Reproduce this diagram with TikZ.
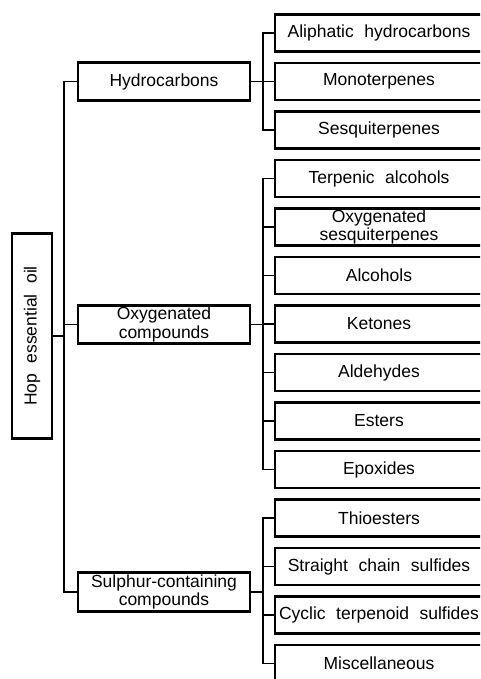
\documentclass[tikz,border=0pt]{standalone}
\usepackage{fontspec}
\setmainfont{Liberation Sans}
\newcommand\myboxfont{\fontsize{17.5}{18.3}\selectfont\spaceskip=10.5pt\relax}
\begin{document}
\begin{tikzpicture}[x=1pt,y=-1pt,
  box/.style={draw=black, line width=2.2pt, inner sep=0pt, align=center,
    font=\myboxfont, text=black},
  midbox/.style={box, minimum width=172pt, minimum height=38pt},
  leafbox/.style={box, minimum width=208pt, minimum height=37pt},
  link/.style={draw=black, line width=1.9pt}]
\useasboundingbox (0,0) rectangle (480,679);
\clip (0,0) rectangle (480,679);
% root
\node[box, minimum width=40pt, minimum height=205pt] (hop) at (32,336)
  {\rotatebox{90}{Hop essential oil}};
% middle level
\node[midbox] (hyd) at (164,81.5) {Hydrocarbons};
\node[midbox] (oxy) at (164,324.5) {Oxygenated\\compounds};
\node[midbox, minimum height=39pt] (sul) at (164,592) {Sulphur-containing\\compounds};
% leaves
\node[leafbox] (r0) at (379,33) {Aliphatic hydrocarbons};
\node[leafbox] (r1) at (379,81.5) {Monoterpenes};
\node[leafbox] (r2) at (379,130) {Sesquiterpenes};
\node[leafbox] (r3) at (379,178.5) {Terpenic alcohols};
\node[leafbox] (r4) at (379,227) {Oxygenated\\sesquiterpenes};
\node[leafbox] (r5) at (379,275.5) {Alcohols};
\node[leafbox] (r6) at (379,324) {Ketones};
\node[leafbox] (r7) at (379,372.5) {Aldehydes};
\node[leafbox] (r8) at (379,421) {Esters};
\node[leafbox] (r9) at (379,469.5) {Epoxides};
\node[leafbox] (r10) at (379,518) {Thioesters};
\node[leafbox] (r11) at (379,566.5) {Straight chain sulfides};
\node[leafbox] (r12) at (379,615) {Cyclic terpenoid sulfides};
\node[leafbox] (r13) at (379,663.5) {Miscellaneous};
% bracket coordinates
\coordinate (trunk) at (64,336);
\coordinate (b1) at (263,81.5);
\coordinate (b2) at (263,324.5);
\coordinate (b3) at (263,592);
% root connectors
\draw[link] (hyd.west) -| (trunk) |- (sul.west);
\draw[link] (hop.east) -- (hop.east -| trunk);
\draw[link] (oxy.west) -- (oxy.west -| trunk);
% hydrocarbons group
\draw[link] (hyd.east) -- (b1);
\draw[link] (r0.west) -| (b1) |- (r2.west);
\draw[link] (r1.west) -- (r1.west -| b1);
% oxygenated group
\draw[link] (oxy.east) -- (b2);
\draw[link] (r3.west) -| (b2) |- (r9.west);
\foreach \i in {4,5,6,7,8}{\draw[link] (r\i.west) -- (r\i.west -| b2);}
% sulphur group
\draw[link] (sul.east) -- (b3);
\draw[link] (r10.west) -| (b3) |- (r13.west);
\foreach \i in {11,12}{\draw[link] (r\i.west) -- (r\i.west -| b3);}
\end{tikzpicture}
\end{document}
